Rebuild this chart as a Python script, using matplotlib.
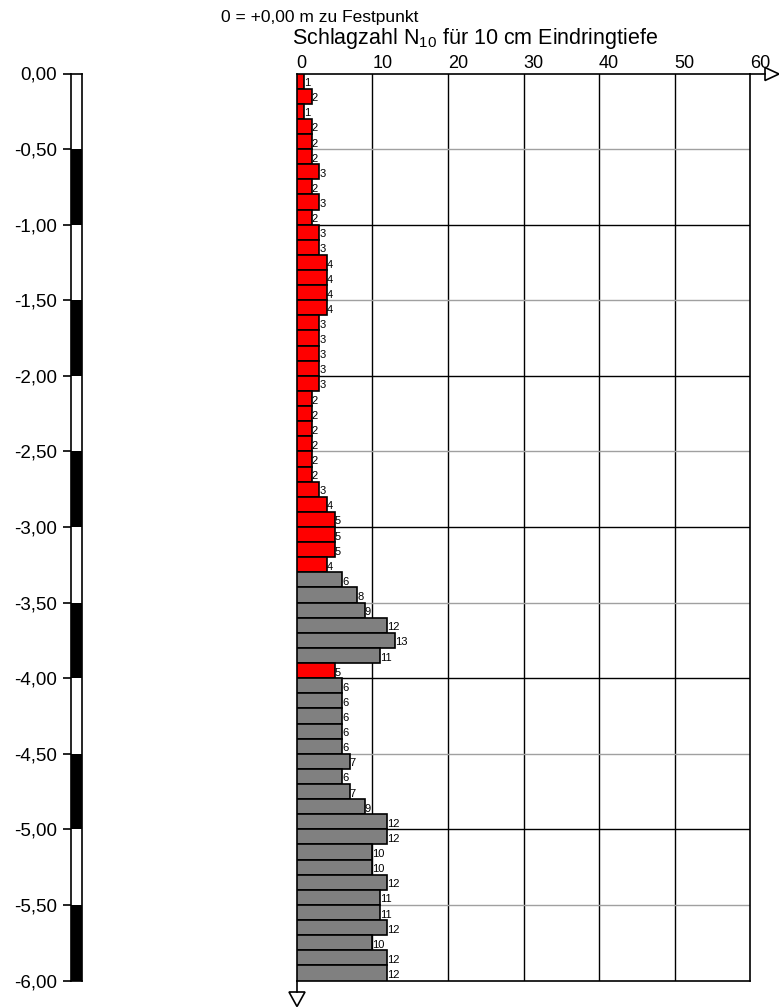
import numpy as np
import matplotlib
matplotlib.use("Agg")
import matplotlib.pyplot as plt
from matplotlib.transforms import offset_copy, blended_transform_factory
from matplotlib.patches import Polygon
from matplotlib.lines import Line2D

plt.rcParams['font.family'] = ['Liberation Sans', 'DejaVu Sans']
plt.rcParams['mathtext.fontset'] = 'custom'
plt.rcParams['mathtext.rm'] = 'Liberation Sans'
plt.rcParams['mathtext.it'] = 'Liberation Sans:italic'

# ---- data ----
depth_top = np.round(np.arange(0.0, 6.0, 0.1), 1)   # top of each 10 cm interval (m)
blows = [1, 2, 1, 2, 2, 2, 3, 2, 3, 2,
         3, 3, 4, 4, 4, 4, 3, 3, 3, 3,
         3, 2, 2, 2, 2, 2, 2, 3, 4, 5,
         5, 5, 4, 6, 8, 9, 12, 13, 11, 5,
         6, 6, 6, 6, 6, 7, 6, 7, 9, 12,
         12, 10, 10, 12, 11, 11, 12, 10, 12, 12]
red_limit = 5
x_ticks = [0, 10, 20, 30, 40, 50, 60]
depth_ticks = [0.0, -0.5, -1.0, -1.5, -2.0, -2.5, -3.0, -3.5, -4.0, -4.5, -5.0, -5.5, -6.0]
depth_labels = ['0,00', '-0,50', '-1,00', '-1,50', '-2,00', '-2,50', '-3,00',
                '-3,50', '-4,00', '-4,50', '-5,00', '-5,50', '-6,00']
title_ref = '0 = +0,00 m zu Festpunkt'
title_axis = 'Schlagzahl N$_{10}$ für 10 cm Eindringtiefe'

W, H = 779, 1008
fig = plt.figure(figsize=(W / 100, H / 100), dpi=100)


def frac(x0, y0, x1, y1):
    return [x0 / W, 1 - y1 / H, (x1 - x0) / W, (y1 - y0) / H]


AX_L, AX_R, AX_T, AX_B = 296.7, 750.3, 73.5, 980.5

# ---- main axes ----
ax = fig.add_axes(frac(AX_L, AX_T, AX_R, AX_B))
ax.set_xlim(0, 60)
ax.set_ylim(-6, 0)

for x in x_ticks[1:-1]:
    ax.axvline(x, color='black', lw=1.0, zorder=1)
for y in depth_ticks[1:-1]:
    if abs(y - round(y)) < 1e-6:
        ax.axhline(y, color='black', lw=1.0, zorder=1)
    else:
        ax.axhline(y, color='#a0a0a0', lw=1.0, zorder=1)

colors = ['#ff0000' if b <= red_limit else '#808080' for b in blows]
centers = -(depth_top + 0.05)
ax.barh(centers, blows, height=0.1, left=0, color=colors,
        edgecolor='black', linewidth=1.2, zorder=3)

lab_tr = offset_copy(ax.transData, fig=fig, x=0, y=2.5, units='dots')
for d, b in zip(depth_top, blows):
    ax.text(b, -(d + 0.1), str(b), transform=lab_tr, ha='left', va='baseline',
            fontsize=8, color='black', zorder=4)

ax.set_xticks([])
ax.set_yticks([])
for s in ax.spines.values():
    s.set_linewidth(1.2)
    s.set_color('black')

tick_tr = offset_copy(blended_transform_factory(ax.transData, ax.transAxes),
                      fig=fig, x=0, y=5, units='dots')
for x in x_ticks:
    ax.text(x, 1, str(x), transform=tick_tr, ha='left', va='baseline',
            fontsize=13, clip_on=False)

fig.text(292 / W, 1 - 44 / H, title_axis, ha='left', va='baseline', fontsize=15.5)
fig.text(221 / W, 1 - 22 / H, title_ref, ha='left', va='baseline', fontsize=12.5)

# ---- depth scale bar ----
ax2 = fig.add_axes(frac(71, AX_T, 82, AX_B))
ax2.set_xlim(0, 1)
ax2.set_ylim(-6, 0)
seg_top = depth_ticks[:-1]
seg_cols = ['white' if i % 2 == 0 else 'black' for i in range(len(seg_top))]
ax2.barh([t - 0.25 for t in seg_top], [1] * len(seg_top), height=0.5, left=0,
         color=seg_cols, edgecolor='none')
ax2.set_xticks([])
ax2.set_yticks(depth_ticks)
ax2.set_yticklabels(depth_labels, fontsize=13.5)
ax2.tick_params(axis='y', length=6, width=1.2, pad=4.3)
for s in ax2.spines.values():
    s.set_linewidth(1.2)

# ---- arrows ----
ov = fig.add_axes([0, 0, 1, 1], zorder=10)
ov.set_xlim(0, W)
ov.set_ylim(H, 0)
ov.axis('off')
ov.patch.set_alpha(0)
ov.add_line(Line2D([AX_R, 765], [AX_T, AX_T], color='black', lw=1.2))
ov.add_patch(Polygon([(765, 67.5), (765, 80.5), (779, 74)], closed=True,
                     facecolor='white', edgecolor='black', lw=1.2))
ov.add_line(Line2D([AX_L, AX_L], [AX_B, 992], color='black', lw=1.2))
ov.add_patch(Polygon([(289, 992), (305, 992), (297, 1006.5)], closed=True,
                     facecolor='white', edgecolor='black', lw=1.2))

fig.savefig('out.png', dpi=100)
